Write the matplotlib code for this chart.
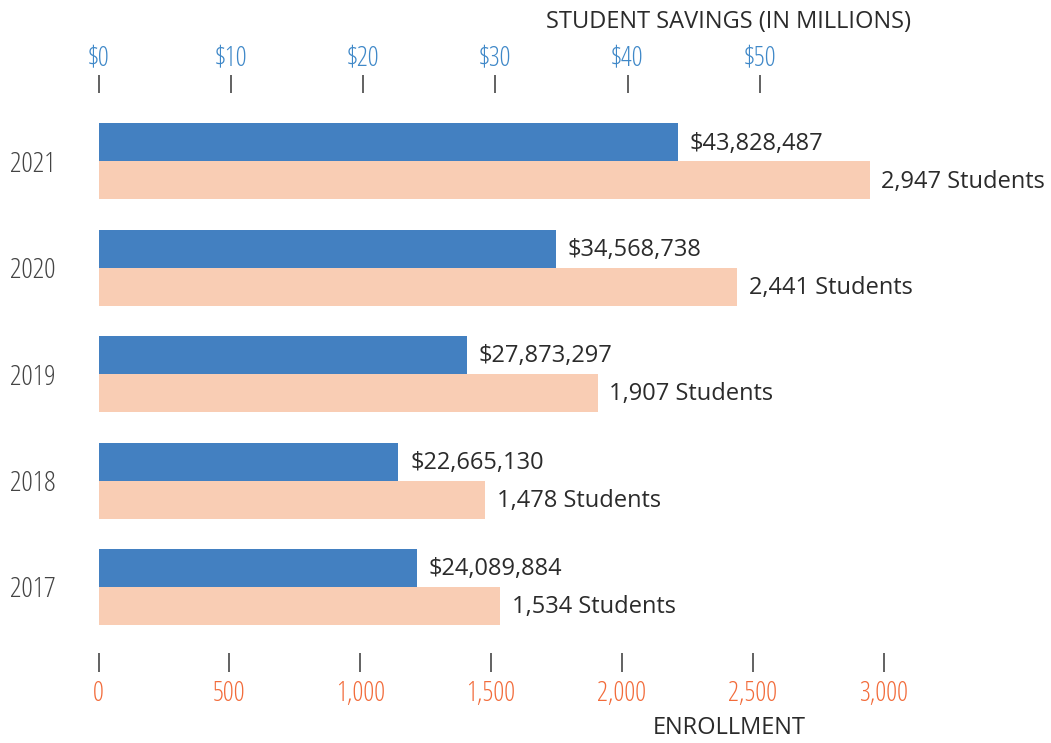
import matplotlib.pyplot as plt
from matplotlib import font_manager
from matplotlib.font_manager import FontProperties

# data
years = ['2017', '2018', '2019', '2020', '2021']
savings = [24089884, 22665130, 27873297, 34568738, 43828487]
enrollment = [1534, 1478, 1907, 2441, 2947]

savings_ticks = [0, 10, 20, 30, 40, 50]
enroll_ticks = [0, 500, 1000, 1500, 2000, 2500, 3000]

BLUE = '#4380c1'
PEACH = '#f9cdb4'
BLUE_TXT = '#3f88c8'
ORANGE_TXT = '#f26b3a'
DARK = '#2b2b2b'


def narrow_font():
    # semi-condensed / condensed light face for the axis numbers
    fl = [f for f in font_manager.fontManager.ttflist if f.name.startswith('Open Sans') and f.style == 'normal']
    for stretch in ('semi-condensed', 'condensed'):
        for weights in ((300, 'light'), (400, 'normal')):
            for f in fl:
                if str(f.stretch) == stretch and f.weight in weights:
                    return {'fname': f.fname}
    have = {f.name for f in font_manager.fontManager.ttflist}
    for name in ('Open Sans Condensed', 'Roboto Condensed', 'Encode Sans Condensed', 'Barlow Semi Condensed'):
        if name in have:
            return {'family': name, 'weight': 'light'}
    return {'family': 'DejaVu Sans'}


NARROW = narrow_font()
plt.rcParams['font.family'] = ['Open Sans', 'DejaVu Sans']

W, H = 1051, 743
fig = plt.figure(figsize=(W / 100, H / 100), dpi=100)
left, right, top, bottom = 98.5, 1000, 93, 653
ax = fig.add_axes([left / W, 1 - bottom / H, (right - left) / W, (bottom - top) / H])
ax2 = ax.twiny()

bar_h = 0.357
pos = list(range(len(years)))
millions = [s / 1e6 for s in savings]

ax.barh(pos, enrollment, height=-bar_h, align='edge', color=PEACH, zorder=2)
ax2.barh(pos, millions, height=bar_h, align='edge', color=BLUE, zorder=2)

ax.set_xlim(0, (right - left) / 0.26167)
ax2.set_xlim(0, (right - left) / 13.226)
ax.set_ylim(-0.62, 4.64)

for p, v in zip(pos, enrollment):
    ax.annotate(f'{v:,} Students', (v, p - bar_h / 2), xytext=(8.5, -1), textcoords='offset points',
                va='center', ha='left', fontsize=17, color=DARK)
for p, v, s in zip(pos, millions, savings):
    ax2.annotate(f'${s:,}', (v, p + bar_h / 2), xytext=(8.5, -1), textcoords='offset points',
                 va='center', ha='left', fontsize=17, color=DARK)

for a in (ax, ax2):
    for sp in a.spines.values():
        sp.set_visible(False)

ax.set_xticks(enroll_ticks)
ax.set_xticklabels([f'{t:,}' for t in enroll_ticks], fontproperties=FontProperties(size=19.5, **NARROW),
                   color=ORANGE_TXT)
ax.tick_params(axis='x', bottom=True, top=False, length=14, width=1.3, color='#555555', pad=5.5)
ax.set_yticks(pos)
ax.set_yticklabels(years, fontproperties=FontProperties(size=20.5, **NARROW), color='#444444')
ax.tick_params(axis='y', length=0, pad=31)

ax2.set_xticks(savings_ticks)
ax2.set_xticklabels([f'${t}' for t in savings_ticks], fontproperties=FontProperties(size=19.5, **NARROW),
                    color=BLUE_TXT)
ax2.tick_params(axis='x', top=True, bottom=False, length=13, width=1.3, color='#555555', pad=1.5)

fig.text(729 / W, 1 - 22 / H, 'STUDENT SAVINGS (IN MILLIONS)', ha='center', va='center',
         fontsize=17, color=DARK)
fig.text(729 / W, 1 - 728 / H, 'ENROLLMENT', ha='center', va='center', fontsize=17, color=DARK)

fig.savefig('out.png', dpi=100)
